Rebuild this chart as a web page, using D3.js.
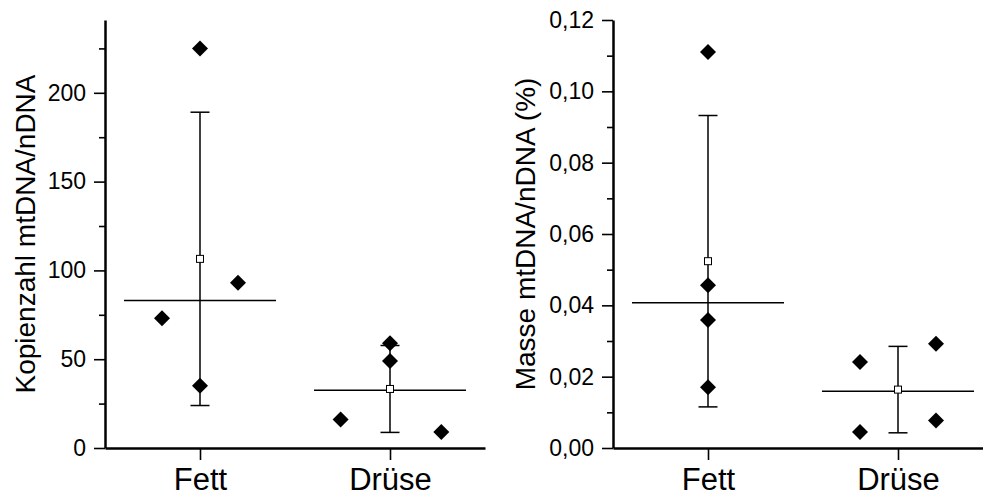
<!DOCTYPE html>
<html>
<head>
<meta charset="utf-8">
<script src="https://cdn.jsdelivr.net/npm/d3@7"></script>
<style>
  body { margin: 0; background: #fff; }
  svg { display: block; font-family: Arial, "Liberation Sans", sans-serif; }
</style>
</head>
<body>
<svg id="svg" width="983" height="497"></svg>
<script>
"use strict";

const categories = ["Fett", "Drüse"];

// Kopienzahl mtDNA/nDNA
const copyFett = [225, 73, 93, 35];
const copyFettOffset = [0, -0.2, 0.2, 0];
const copyDruese = [59, 49, 16, 9];
const copyDrueseOffset = [0, 0, -0.26, 0.27];
const copyTicks = [0, 50, 100, 150, 200];
const copyMinor = [25, 75, 125, 175, 225];

// Masse mtDNA/nDNA (%)
const massFett = [0.111, 0.0456, 0.0359, 0.0170];
const massFettOffset = [0, 0, 0, 0];
const massDruese = [0.0241, 0.0045, 0.0292, 0.0077];
const massDrueseOffset = [-0.2, -0.2, 0.2, 0.2];
const massTicks = [0, 0.02, 0.04, 0.06, 0.08, 0.10, 0.12];
const massMinor = [0.01, 0.03, 0.05, 0.07, 0.09, 0.11];

const yTop = 20;
const yBottom = 448;
const majorTick = 11;
const minorTick = 6;

var svg = d3.select("svg");

var panels = [
    {
        left: 105, right: 485, max: 241,
        label: "Kopienzahl mtDNA/nDNA", labelX: 35,
        groups: [copyFett, copyDruese],
        offsets: [copyFettOffset, copyDrueseOffset],
        ticks: copyTicks, minor: copyMinor,
        format: d3.format("d")
    },
    {
        left: 613, right: 993, max: 0.12,
        label: "Masse mtDNA/nDNA (%)", labelX: 535,
        groups: [massFett, massDruese],
        offsets: [massFettOffset, massDrueseOffset],
        ticks: massTicks, minor: massMinor,
        format: d => d3.format(".2f")(d).replace(".", ",")
    }
];

panels.forEach(drawPanel);

function diamond(size)
{
    return "M0," + (-size) + "L" + size + ",0L0," + size + "L" + (-size) + ",0Z";
}

function drawPanel(p)
{
    var x = d3.scaleLinear().domain([0.5, 2.5]).range([p.left, p.right]);
    var y = d3.scaleLinear().domain([0, p.max]).range([yBottom, yTop]);

    var g = svg.append("g");

    // y axis, major ticks with labels
    var yAxis = g.append("g")
        .attr("transform", "translate(" + p.left + ",0)")
        .call(d3.axisLeft(y)
            .tickValues(p.ticks)
            .tickFormat(p.format)
            .tickSize(majorTick)
            .tickPadding(8)
            .tickSizeOuter(0));
    yAxis.select(".domain").attr("stroke-width", 2.5);
    yAxis.selectAll(".tick line").attr("stroke-width", 1.6);
    yAxis.selectAll(".tick text")
        .attr("font-size", 23)
        .attr("font-family", "Arial, 'Liberation Sans', sans-serif")
        .attr("fill", "#000");

    // minor ticks
    g.append("g")
        .attr("transform", "translate(" + p.left + ",0)")
        .call(d3.axisLeft(y)
            .tickValues(p.minor)
            .tickFormat("")
            .tickSize(minorTick)
            .tickSizeOuter(0))
        .call(a => a.select(".domain").remove())
        .selectAll(".tick line").attr("stroke-width", 1.6);

    // x axis
    var xAxis = g.append("g")
        .attr("transform", "translate(0," + yBottom + ")")
        .call(d3.axisBottom(x)
            .tickValues([1, 2])
            .tickFormat((d, i) => categories[i])
            .tickSize(12)
            .tickSizeOuter(0));
    xAxis.select(".domain").attr("stroke-width", 2.5);
    xAxis.selectAll(".tick line").attr("stroke-width", 1.6);
    xAxis.selectAll(".tick text")
        .attr("y", 42)
        .attr("dy", 0)
        .attr("font-size", 31)
        .attr("font-family", "Arial, 'Liberation Sans', sans-serif")
        .attr("fill", "#000");

    // y label
    g.append("text")
        .attr("transform", "translate(" + p.labelX + "," + 234 + ") rotate(-90)")
        .attr("text-anchor", "middle")
        .attr("font-size", 28)
        .text(p.label);

    p.groups.forEach(function(values, i)
    {
        var cx = i + 1;
        var mean = d3.mean(values);
        var sd = d3.deviation(values);
        var median = d3.median(values);

        // median line
        g.append("line")
            .attr("x1", x(cx - 0.4)).attr("x2", x(cx + 0.4))
            .attr("y1", y(median)).attr("y2", y(median))
            .attr("stroke", "#000").attr("stroke-width", 1.5);

        // error bar mean ± SD
        var eb = g.append("g").attr("stroke", "#000").attr("stroke-width", 1.5);
        eb.append("line")
            .attr("x1", x(cx)).attr("x2", x(cx))
            .attr("y1", y(mean + sd)).attr("y2", y(mean - sd));
        [mean + sd, mean - sd].forEach(v =>
            eb.append("line")
                .attr("x1", x(cx) - 9.5).attr("x2", x(cx) + 9.5)
                .attr("y1", y(v)).attr("y2", y(v)));

        // mean marker
        g.append("rect")
            .attr("x", x(cx) - 3.5).attr("y", y(mean) - 3.5)
            .attr("width", 7).attr("height", 7)
            .attr("fill", "#fff").attr("stroke", "#000").attr("stroke-width", 1);

        // points
        g.selectAll(null)
            .data(values)
            .enter()
            .append("path")
                .attr("d", diamond(8))
                .attr("transform", (d, j) => "translate(" + x(cx + p.offsets[i][j]) + "," + y(d) + ")")
                .attr("fill", "#000");
    });
}
</script>
</body>
</html>
